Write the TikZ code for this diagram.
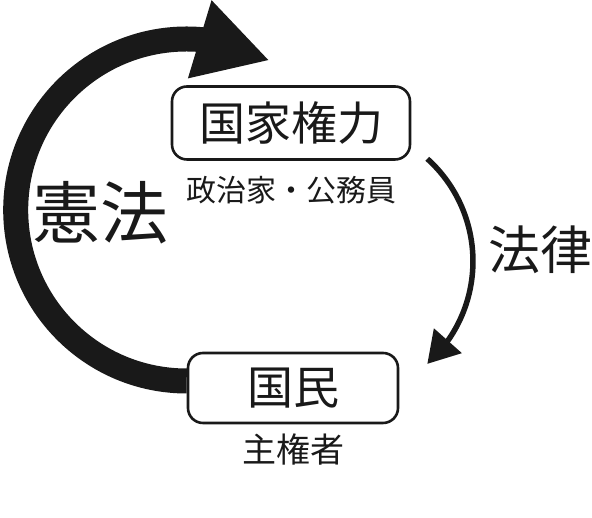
\documentclass[tikz,border=0pt]{standalone}
\usepackage{fontspec}
\setmainfont{Noto Sans CJK JP}
\usetikzlibrary{arrows.meta}
\usetikzlibrary{bending}
\usetikzlibrary{positioning}
\tikzset{box/.style = {draw, rounded corners=15pt, line width=2.6pt, inner sep=0pt},
         caption/.style = {inner sep=0pt},
         bigarrow/.style = {line width=25pt, -{Triangle[length=73pt, width=76pt]}},
         thinarrow/.style = {line width=5.5pt, -{Triangle[length=31pt, width=36pt]}}}
\newcommand{\fs}[1]{\fontsize{#1}{#1}\selectfont}
\definecolor{ink}{gray}{0.1}

\begin{document}
\begin{tikzpicture}[x=1pt, y=1pt, ink]
    \useasboundingbox (0, 0) rectangle (592, 518);

    \node [box, minimum width=238pt, minimum height=73pt] (kokka) at (291, 395) {\fs{46}国家権力};
    \node [caption, below=15pt of kokka] (seijika) {\fs{30}政治家・公務員};
    \node [box, minimum width=210pt, minimum height=70pt] (kokumin) at (293, 130) {\fs{46}国民};
    \node [caption, below=9pt of kokumin] (shukensha) {\fs{34}主権者};
    \node [caption] (kenpo) at (100, 305) {\fs{68}憲法};
    \node [caption] (horitsu) at (540, 268) {\fs{52}法律};

    \draw [bigarrow] ([yshift=7pt]kokumin.west) arc [start angle=-90, end angle=-299, radius=171];
    \draw [thinarrow] ([xshift=16pt, yshift=2pt]kokka.south east) arc [start angle=48, end angle=-48, radius=138];
  \end{tikzpicture}
\end{document}
